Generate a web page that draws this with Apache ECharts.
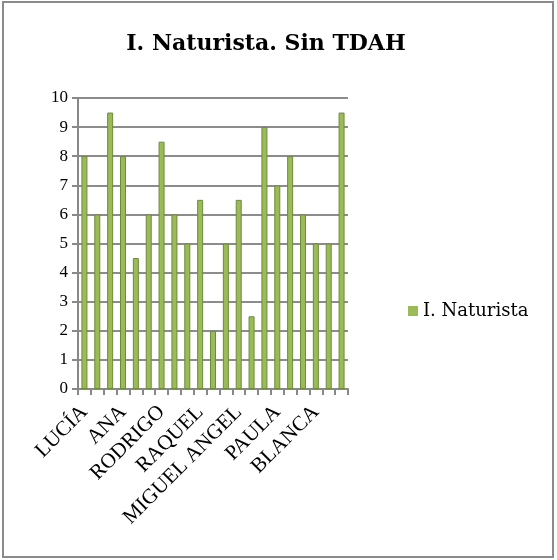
<!DOCTYPE html>
<html><head><meta charset="utf-8">
<script src="https://cdn.jsdelivr.net/npm/echarts@6/dist/echarts.min.js"></script>
<style>html,body{margin:0;padding:0;background:#fff}#c{width:557px;height:560px}</style>
</head><body><div id="c"></div>
<script>
const title = 'I. Naturista. Sin TDAH';
const seriesName = 'I. Naturista';
const categories = ['LUCÍA','Alumno 2','Alumno 3','ANA','Alumno 5','Alumno 6','RODRIGO','Alumno 8','Alumno 9','RAQUEL','Alumno 11','Alumno 12','MIGUEL ANGEL','Alumno 14','Alumno 15','PAULA','Alumno 17','Alumno 18','BLANCA','Alumno 20','Alumno 21'];
const values = [8, 6, 9.5, 8, 4.5, 6, 8.5, 6, 5, 6.5, 2, 5, 6.5, 2.5, 9, 7, 8, 6, 5, 5, 9.5];
const yTicks = [0, 10, 1];

const chart = echarts.init(document.getElementById('c'));
const serif = 'DejaVu Serif';
const times = 'Liberation Serif';
chart.setOption({
  animation: false,
  graphic: [{type:'rect', shape:{x:3,y:2,width:550,height:555}, style:{fill:'none', stroke:'#8a8a8a', lineWidth:2}}],
  title: {text: title, left: 261, top: 28, textAlign: 'center',
    textStyle: {fontFamily: serif, fontWeight: 'bold', fontSize: 22, color: '#000'}},
  legend: {orient: 'vertical', left: 403, top: 297, itemWidth: 10, itemHeight: 10, itemGap: 6,
    icon: 'rect', itemStyle: {borderWidth: 0},
    textStyle: {fontFamily: serif, fontSize: 18, color: '#000'}},
  grid: {left: 78, right: 209, top: 98, bottom: 171},
  xAxis: {type: 'category', data: categories,
    axisLine: {lineStyle: {color: '#888', width: 2}},
    axisTick: {show: true, interval: 0, length: 6, lineStyle: {color: '#888', width: 2}},
    axisLabel: {interval: 2, rotate: 45, margin: 20, fontFamily: times, fontSize: 21, color: '#000'}},
  yAxis: {type: 'value', min: yTicks[0], max: yTicks[1], interval: yTicks[2],
    axisLine: {show: true, lineStyle: {color: '#888', width: 2}},
    axisTick: {show: true, length: 6, lineStyle: {color: '#888', width: 2}},
    splitLine: {lineStyle: {color: '#8c8c8c', width: 2}},
    axisLabel: {margin: 10, fontFamily: times, fontSize: 17, color: '#000'}},
  series: [{name: seriesName, type: 'bar', data: values, barWidth: 6,
    itemStyle: {color: '#9BBB59', borderColor: '#6E8B3A', borderWidth: 1}}]
});
</script></body></html>
